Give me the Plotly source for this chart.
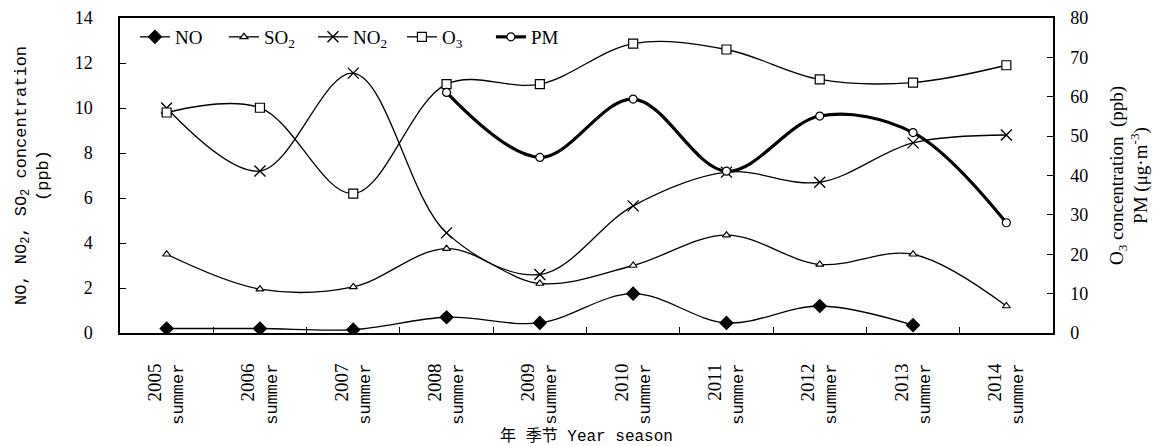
import plotly.graph_objects as go

# Category labels (year + season)
years = ["2005", "2006", "2007", "2008", "2009", "2010", "2011", "2012", "2013", "2014"]
season = "summer"

# Left axis series (ppb)
no_vals = [0.2, 0.2, 0.15, 0.7, 0.45, 1.75, 0.45, 1.2, 0.35, None]
so2_vals = [3.5, 1.95, 2.05, 3.75, 2.2, 3.0, 4.35, 3.05, 3.5, 1.2]
no2_vals = [10.0, 7.2, 11.55, 4.45, 2.6, 5.65, 7.15, 6.7, 8.45, 8.8]

# Right axis series (O3 in ppb, PM in ug/m3)
o3_vals = [56.0, 57.2, 35.4, 63.2, 63.2, 73.5, 72.0, 64.4, 63.6, 68.0]
pm_vals = [None, None, None, 61.1, 44.6, 59.4, 41.1, 55.1, 50.9, 28.0]

cats = [f"{y} {season}" for y in years]
tick_text = [
    f"<span style='font-family:Liberation Serif;font-size:19px'>{y}</span><br>{season}"
    for y in years
]

BLACK = "#000000"
SERIF = "Liberation Serif"
MONO = "Liberation Mono, Noto Sans CJK SC"

fig = go.Figure()

def add_series(name, vals, symbol, size, fill, axis, width=1.3, mwidth=1.2):
    fig.add_trace(go.Scatter(
        x=cats, y=vals, name=name, yaxis=axis,
        mode="lines+markers",
        line=dict(color=BLACK, width=width, shape="spline", smoothing=1.0),
        marker=dict(symbol=symbol, size=size, color=fill,
                    line=dict(color=BLACK, width=mwidth)),
        connectgaps=False,
    ))

add_series("NO", no_vals, "diamond", 10, BLACK, "y")
add_series("SO<sub>2</sub>", so2_vals, "triangle-up", 7, "white", "y")
add_series("NO<sub>2</sub>", no2_vals, "x-thin-open", 11, BLACK, "y", mwidth=1.4)
add_series("O<sub>3</sub>", o3_vals, "square", 9, "white", "y2")
add_series("PM", pm_vals, "circle", 8, "white", "y2", width=3.2, mwidth=1.2)

fig.update_layout(
    width=1170, height=446,
    margin=dict(l=120, r=117, t=18, b=113, autoexpand=False),
    paper_bgcolor="white", plot_bgcolor="white",
    font=dict(family=SERIF, size=18, color=BLACK),
    showlegend=True,
    legend=dict(
        orientation="h", x=0.016, y=1.0, xanchor="left", yanchor="top",
        bgcolor="rgba(0,0,0,0)", font=dict(family=SERIF, size=19),
        itemwidth=30, tracegroupgap=0,
        entrywidth=44, entrywidthmode="pixels",
    ),
    xaxis=dict(
        type="category", categoryorder="array", categoryarray=cats,
        range=[-0.5, 9.5], automargin=False,
        tickmode="array", tickvals=cats, ticktext=tick_text,
        tickangle=-90, tickson="boundaries",
        ticks="inside", ticklen=6, tickwidth=1, tickcolor=BLACK,
        tickfont=dict(family=MONO, size=17),
        ticklabelstandoff=22,
        showline=True, linecolor=BLACK, linewidth=1.5, mirror=True,
        showgrid=False, zeroline=False,
        title=dict(text="年 季节 Year season",
                   font=dict(family=MONO, size=16), standoff=6),
    ),
    yaxis=dict(
        range=[0, 14], dtick=2, tick0=0, automargin=False,
        ticks="inside", ticklen=6, tickcolor=BLACK,
        tickfont=dict(family=SERIF, size=18),
        ticklabelstandoff=22,
        showline=True, linecolor=BLACK, linewidth=1.5, mirror=True,
        showgrid=False, zeroline=False,
        title=dict(text="NO, NO<sub>2</sub>, SO<sub>2</sub> concentration<br>(ppb)",
                   font=dict(family=MONO, size=17), standoff=22),
    ),
    yaxis2=dict(
        overlaying="y", side="right",
        range=[0, 80], dtick=10, tick0=0, automargin=False,
        ticks="inside", ticklen=6, tickcolor=BLACK,
        tickfont=dict(family=SERIF, size=18),
        ticklabelstandoff=12,
        showline=True, linecolor=BLACK, linewidth=1.5,
        showgrid=False, zeroline=False,
        title=dict(text="O<sub>3</sub> concentration  (ppb)<br>PM (μg·m<sup>-3</sup>)",
                   font=dict(family=SERIF, size=19), standoff=22),
    ),
)

fig.write_html("out.html")
